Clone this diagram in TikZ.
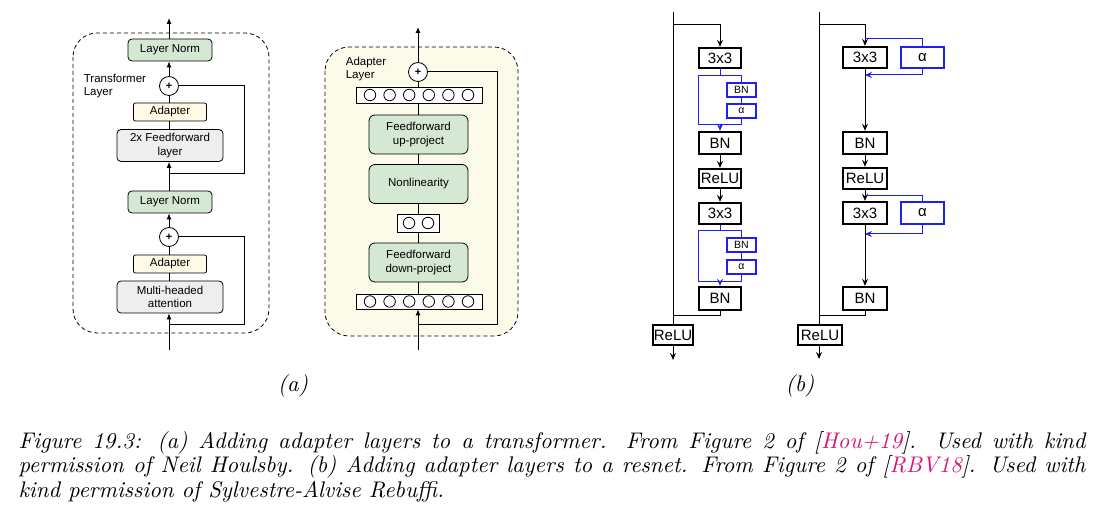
\documentclass[tikz,border=0pt]{standalone}
\usepackage{fontspec}
\newfontfamily\lsans{Liberation Sans}
\newfontfamily\capfont{lmroman10-italic.otf}
\usetikzlibrary{arrows.meta,positioning}
\definecolor{lngreen}{RGB}{213,232,212}
\definecolor{adcream}{RGB}{255,251,230}
\definecolor{ffgray}{RGB}{238,238,238}
\definecolor{bgyellow}{RGB}{252,250,232}
\definecolor{resblue}{RGB}{30,30,245}
\definecolor{citecol}{RGB}{214,20,120}

\begin{document}
\begin{tikzpicture}[x=1pt, y=-1pt, line width=1pt,
    lbl/.style = {font=\lsans\fontsize{11.5}{13.5}\selectfont},
    blk/.style = {draw, rounded corners=4pt, line width=0.8pt, lbl, align=center, inner sep=0pt},
    ln/.style  = {blk, fill=lngreen, minimum width=84pt, minimum height=22pt},
    ad/.style  = {blk, fill=adcream, rounded corners=2pt, minimum width=73pt, minimum height=18pt},
    ff/.style  = {blk, fill=ffgray, minimum width=106pt, minimum height=32pt},
    gr/.style  = {blk, fill=lngreen, rounded corners=6pt, minimum width=99pt, minimum height=39pt},
    plus/.style = {draw, circle, fill=white, line width=0.8pt, minimum size=19pt, inner sep=0pt, font=\lsans\bfseries\fontsize{11}{11}\selectfont},
    layer/.style = {draw, line width=0.6pt, minimum height=15pt, inner sep=0pt, fill=white},
    neuron/.style = {draw, circle, line width=0.8pt, minimum size=11.5pt, inner sep=0pt},
    frame/.style = {draw, line width=0.8pt, dash pattern=on 4pt off 3pt, rounded corners=24pt},
    tri/.style = {-{Latex[length=6pt,width=5pt]}},
    res/.style = {draw, line width=2.4pt, font=\lsans\fontsize{15}{15}\selectfont, inner sep=0pt, fill=white},
    sm/.style  = {draw=resblue, line width=2.4pt, font=\lsans\fontsize{10.5}{10.5}\selectfont, inner sep=0pt, minimum width=29pt, minimum height=14pt, fill=white},
    opn/.style = {-{Stealth[length=7pt,width=6pt,inset=2.5pt]}},
    captxt/.style = {font=\capfont\fontsize{22.6}{24.5}\selectfont}]

  \useasboundingbox (0,0) rectangle (1098,518);

  % (a) transformer layer
  \draw[frame] (73,33) rectangle (269,333);
  \node[lbl, align=left, anchor=north west] (tl) at (80,70) {Transformer\\Layer};
  \node[ln] (ln2) at (170,50) {Layer Norm};
  \node[plus] (add2) at (169,86) {+};
  \node[ad] (ad2) at (170,112) {Adapter};
  \node[ff] (ffl) at (170,145.5) {2x Feedforward\\layer};
  \node[ln] (ln1) at (170,202) {Layer Norm};
  \node[plus] (add1) at (169,237) {+};
  \node[ad] (ad1) at (170,264) {Adapter};
  \node[ff] (mha) at (170,297) {Multi-headed\\attention};

  \coordinate (ina) at (169,350);
  \coordinate (outa) at (169,18);
  \coordinate (sk1) at (169,325);
  \coordinate (sk2) at (169,174);

  \draw[tri] (ina) -- (mha.south -| ina);
  \draw (sk1) -- (244,325) -- (244,237) -- (add1.east);
  \draw (mha.north -| ina) -- (ad1.south -| ina);
  \draw (ad1.north -| ina) -- (add1.south);
  \draw[tri] (add1.north) -- (ln1.south -| ina);
  \draw[tri] (ln1.north -| ina) -- (ffl.south -| ina);
  \draw (sk2) -- (244,174) -- (244,86) -- (add2.east);
  \draw (ffl.north -| ina) -- (ad2.south -| ina);
  \draw (ad2.north -| ina) -- (add2.south);
  \draw[tri] (add2.north) -- (ln2.south -| ina);
  \draw[tri] (ln2.north -| ina) -- (outa);

  % (a) adapter layer
  \draw[frame, fill=bgyellow] (325,47) rectangle (518,336);
  \node[lbl, align=left, anchor=north west] (al) at (342,53) {Adapter\\Layer};
  \node[plus] (add3) at (418,72) {+};
  \node[layer, minimum width=126pt, minimum height=16pt] (nt) at (419,95) {};
  \node[gr] (up) at (418.5,134.5) {Feedforward\\up-project};
  \node[gr] (nl) at (418.5,184) {Nonlinearity};
  \node[layer, minimum width=42pt, minimum height=18pt] (nm) at (418,223) {};
  \node[gr] (down) at (418.5,262.5) {Feedforward\\down-project};
  \node[layer, minimum width=126pt] (nb) at (419,301.5) {};
  \foreach \i in {0,...,5} {
    \node[neuron] (t\i) at (370+19.6*\i,95) {};
    \node[neuron] (b\i) at (370+19.6*\i,301.5) {};
  }
  \node[neuron] (m0) at (409,223) {};
  \node[neuron] (m1) at (428,223) {};

  \coordinate (inb) at (418,350);
  \coordinate (outb) at (418,27);
  \coordinate (sk3) at (418,325);

  \draw[tri] (inb) -- (nb.south -| inb);
  \draw (sk3) -- (497,325) -- (497,72) -- (add3.east);
  \draw (nb.north -| inb) -- (down.south -| inb);
  \draw (down.north -| inb) -- (nm.south -| inb);
  \draw (nm.north -| inb) -- (nl.south -| inb);
  \draw (nl.north -| inb) -- (up.south -| inb);
  \draw (up.north -| inb) -- (nt.south -| inb);
  \draw (nt.north -| inb) -- (add3.south);
  \draw[tri] (add3.north) -- (outb);

  % (b) resnet, series adapters
  \node[res, minimum width=42pt, minimum height=20pt] (c1) at (720,58) {3x3};
  \node[sm] (bs1) at (741.5,90) {BN};
  \node[sm] (as1) at (741.5,111) {α};
  \node[res, minimum width=42pt, minimum height=22pt] (n1) at (720,143) {BN};
  \node[res, minimum width=42pt, minimum height=19pt] (r1) at (720,178.5) {ReLU};
  \node[res, minimum width=42pt, minimum height=21pt] (c2) at (720,213.5) {3x3};
  \node[sm] (bs2) at (741.5,245) {BN};
  \node[sm] (as2) at (741.5,267) {α};
  \node[res, minimum width=42pt, minimum height=23pt] (n2) at (720,298.5) {BN};
  \node[res, minimum width=40pt, minimum height=20pt] (rl) at (673,335) {ReLU};

  \coordinate (tl1) at (673,12);
  \coordinate (br1) at (673,25);
  \coordinate (jn1) at (673,316);
  \coordinate (ol1) at (673,360);

  \draw (tl1) -- (rl.north);
  \draw[opn] (br1) -| (c1.north);
  \draw[resblue] (c1.south) -- (720,76) -- (698,76) -- (698,125) -- (741.5,125) -- (as1.south);
  \draw[resblue] (720,76) -- (741.5,76) -- (bs1.north);
  \draw[resblue] (bs1.south) -- (as1.north);
  \draw[resblue, opn] (720,125) -- (n1.north);
  \draw[opn] (n1.south) -- (r1.north);
  \draw[opn] (r1.south) -- (c2.north);
  \draw[resblue] (c2.south) -- (720,231) -- (698,231) -- (698,282) -- (741.5,282) -- (as2.south);
  \draw[resblue] (720,231) -- (741.5,231) -- (bs2.north);
  \draw[resblue] (bs2.south) -- (as2.north);
  \draw[resblue, opn] (720,282) -- (n2.north);
  \draw (n2.south) |- (jn1);
  \draw[opn] (rl.south) -- (ol1);

  % (b) resnet, parallel adapters
  \node[res, minimum width=44pt, minimum height=21pt] (c3) at (865,57.5) {3x3};
  \node[res, draw=resblue, minimum width=43pt, minimum height=21pt] (p1) at (922.5,57.5) {α};
  \node[res, minimum width=44pt, minimum height=22pt] (n3) at (865,143) {BN};
  \node[res, minimum width=44pt, minimum height=21pt] (r3) at (865,178.5) {ReLU};
  \node[res, minimum width=44pt, minimum height=22pt] (c4) at (865,213) {3x3};
  \node[res, draw=resblue, minimum width=43pt, minimum height=22pt] (p2) at (922.5,213) {α};
  \node[res, minimum width=44pt, minimum height=23pt] (n4) at (865,298.5) {BN};
  \node[res, minimum width=44pt, minimum height=20pt] (rr) at (820,335) {ReLU};

  \coordinate (tl2) at (819,12);
  \coordinate (br2) at (819,25);
  \coordinate (jn2) at (819,316);
  \coordinate (ol2) at (819,359);

  \draw (tl2) -- (tl2 |- rr.north);
  \draw[opn] (br2) -| (c3.north);
  \draw[resblue] (865,39) -| (p1.north);
  \draw[resblue, opn] (p1.south) |- (865,75);
  \draw[opn] (c3.south) -- (n3.north);
  \draw[opn] (n3.south) -- (r3.north);
  \draw[opn] (r3.south) -- (c4.north);
  \draw[resblue] (865,196) -| (p2.north);
  \draw[resblue, opn] (p2.south) |- (865,234);
  \draw[opn] (c4.south) -- (n4.north);
  \draw (n4.south) |- (jn2);
  \draw[opn] (tl2 |- rr.south) -- (ol2);

  % captions
  \node[captxt] (ca) at (293,386) {(a)};
  \node[captxt] (cb) at (800,386) {(b)};
  \node[captxt, anchor=north west, text width=1067pt, align=justify, inner sep=0pt] (fig) at (18,431)
    {Figure 19.3: (a) Adding adapter layers to a transformer. From Figure 2 of [{\color{citecol}Hou+19}]. Used with kind\linebreak
     permission of Neil Houlsby. (b) Adding adapter layers to a resnet. From Figure 2 of [{\color{citecol}RBV18}]. Used with\linebreak
     kind permission of Sylvestre-Alvise Rebuffi.};
\end{tikzpicture}
\end{document}
